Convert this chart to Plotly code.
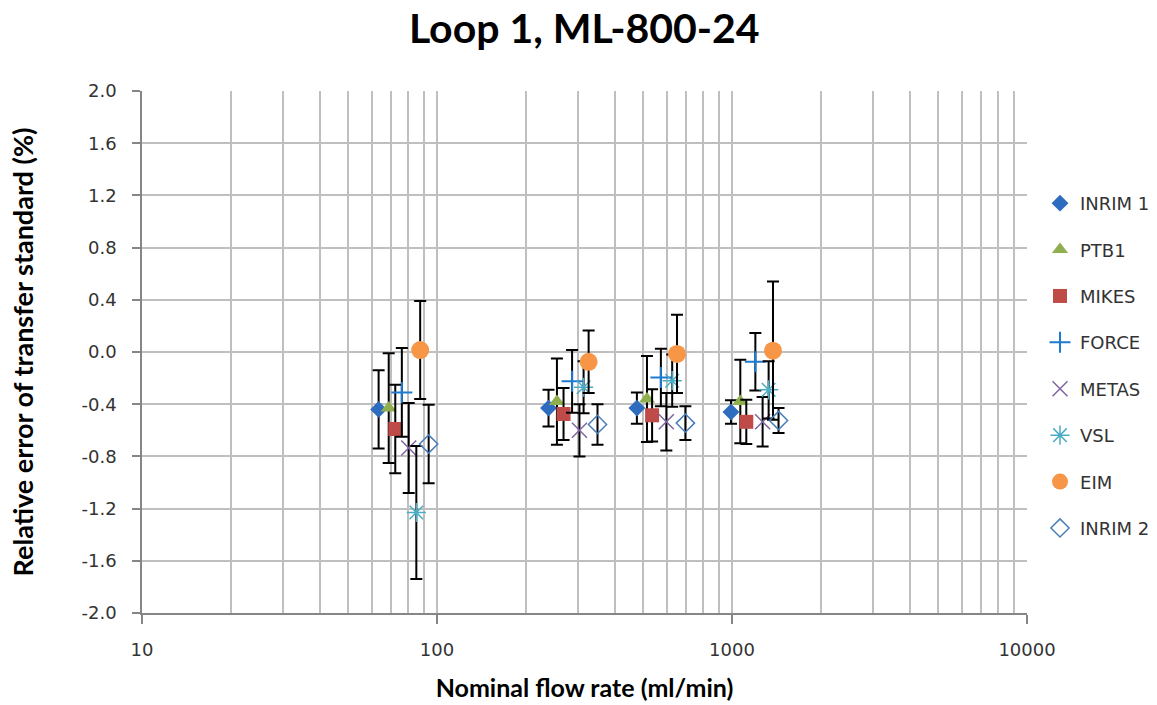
import plotly.graph_objects as go

# ---- data ----
labs = ["INRIM 1", "PTB1", "MIKES", "FORCE", "METAS", "VSL", "EIM", "INRIM 2"]

inrim1_x = [63.4, 238.8, 476, 992]
inrim1_y = [-0.44, -0.43, -0.43, -0.46]
inrim1_e = [0.30, 0.14, 0.12, 0.09]

ptb1_x = [68.6, 255, 515, 1067]
ptb1_y = [-0.43, -0.38, -0.36, -0.38]
ptb1_e = [0.42, 0.33, 0.33, 0.32]

mikes_x = [72.2, 268.5, 536, 1118]
mikes_y = [-0.59, -0.475, -0.485, -0.535]
mikes_e = [0.34, 0.20, 0.20, 0.17]

force_x = [76.0, 287, 574, 1200]
force_y = [-0.31, -0.225, -0.195, -0.075]
force_e = [0.34, 0.24, 0.22, 0.22]

metas_x = [80.2, 304, 599, 1270]
metas_y = [-0.735, -0.60, -0.535, -0.535]
metas_e = [0.345, 0.20, 0.22, 0.19]

vsl_x = [85.1, 314, 627, 1331]
vsl_y = [-1.23, -0.27, -0.22, -0.29]
vsl_e = [0.51, 0.20, 0.20, 0.22]

eim_x = [87.7, 326.6, 651, 1377]
eim_y = [0.015, -0.075, -0.015, 0.01]
eim_e = [0.375, 0.24, 0.30, 0.53]

inrim2_x = [93.7, 350, 695, 1438]
inrim2_y = [-0.705, -0.555, -0.545, -0.525]
inrim2_e = [0.30, 0.155, 0.13, 0.095]

x_tick_vals = [10, 100, 1000, 10000]
x_tick_text = ["10", "100", "1000", "10000"]
y_tick_vals = [-2.0, -1.6, -1.2, -0.8, -0.4, 0.0, 0.4, 0.8, 1.2, 1.6, 2.0]
y_tick_text = ["-2.0", "-1.6", "-1.2", "-0.8", "-0.4", "0.0", "0.4", "0.8", "1.2", "1.6", "2.0"]

series = [
    (labs[0], inrim1_x, inrim1_y, inrim1_e, dict(symbol="diamond", size=13, color="#2E6CC0")),
    (labs[1], ptb1_x, ptb1_y, ptb1_e, dict(symbol="triangle-up", size=14, color="#8FAE4E")),
    (labs[2], mikes_x, mikes_y, mikes_e, dict(symbol="square", size=14, color="#BE4B48")),
    (labs[3], force_x, force_y, force_e, dict(symbol="cross-thin-open", size=15, color="#1F7AD1",
                                             line=dict(color="#1F7AD1", width=2))),
    (labs[4], metas_x, metas_y, metas_e, dict(symbol="x-thin-open", size=15, color="#8064A2",
                                             line=dict(color="#8064A2", width=1.5))),
    (labs[5], vsl_x, vsl_y, vsl_e, dict(symbol="asterisk-open", size=16, color="#4BACC6",
                                       line=dict(color="#4BACC6", width=1.5))),
    (labs[6], eim_x, eim_y, eim_e, dict(symbol="circle", size=18, color="#F79646")),
    (labs[7], inrim2_x, inrim2_y, inrim2_e, dict(symbol="diamond-open", size=14, color="#4A7EBB",
                                               line=dict(color="#4A7EBB", width=1.5))),
]

fig = go.Figure()
for i, (name, xs, ys, es, mk) in enumerate(series):
    fig.add_trace(go.Scatter(
        x=xs, y=ys, mode="markers", name=name, legendgroup=name,
        marker=mk,
        error_y=dict(type="data", array=es, symmetric=True, color="black",
                     thickness=2, width=6),
    ))

grid = "#BFBFBF"
fig.update_layout(
    width=1157, height=705,
    margin=dict(l=142, r=130, t=91, b=92, autoexpand=False),
    paper_bgcolor="white", plot_bgcolor="white",
    title=dict(text="<b>Loop 1, ML-800-24</b>", x=0.505, xanchor="center",
               y=0.96, yanchor="middle",
               font=dict(family="Lato", size=41, color="black")),
    font=dict(family="DejaVu Sans", color="#333333"),
    legend=dict(x=1.0147, y=0.82, xanchor="left", yanchor="top",
                font=dict(family="DejaVu Sans", size=18, color="#333333"),
                tracegroupgap=20, traceorder="grouped", bgcolor="rgba(0,0,0,0)"),
    showlegend=True,
)
fig.update_xaxes(
    type="log", range=[1, 4],
    tickvals=x_tick_vals, ticktext=x_tick_text,
    showgrid=True, gridcolor=grid, gridwidth=1.5,
    minor=dict(dtick="D1", showgrid=True, gridcolor=grid, gridwidth=1.5, ticks=""),
    showline=True, linecolor="#868686", linewidth=1.5,
    ticks="outside", ticklen=9, tickcolor="#868686", tickwidth=1.5,
    tickfont=dict(family="DejaVu Sans", size=18, color="#333333"),
    ticklabelstandoff=11,
    title=dict(text="<b>Nominal flow rate (ml/min)</b>",
               font=dict(family="Lato", size=25, color="black"), standoff=20),
    mirror=False, zeroline=False,
)
fig.update_yaxes(
    range=[-2, 2],
    tickvals=y_tick_vals, ticktext=y_tick_text,
    showgrid=True, gridcolor=grid, gridwidth=1.5,
    showline=True, linecolor="#868686", linewidth=1.5,
    ticks="outside", ticklen=8, tickcolor="#868686", tickwidth=1.5,
    tickfont=dict(family="DejaVu Sans", size=18, color="#333333"),
    ticklabelstandoff=12,
    title=dict(text="<b>Relative error of transfer standard (%)</b>",
               font=dict(family="Lato", size=27, color="black"), standoff=40),
    zeroline=False,
)

fig.write_html("out.html")
